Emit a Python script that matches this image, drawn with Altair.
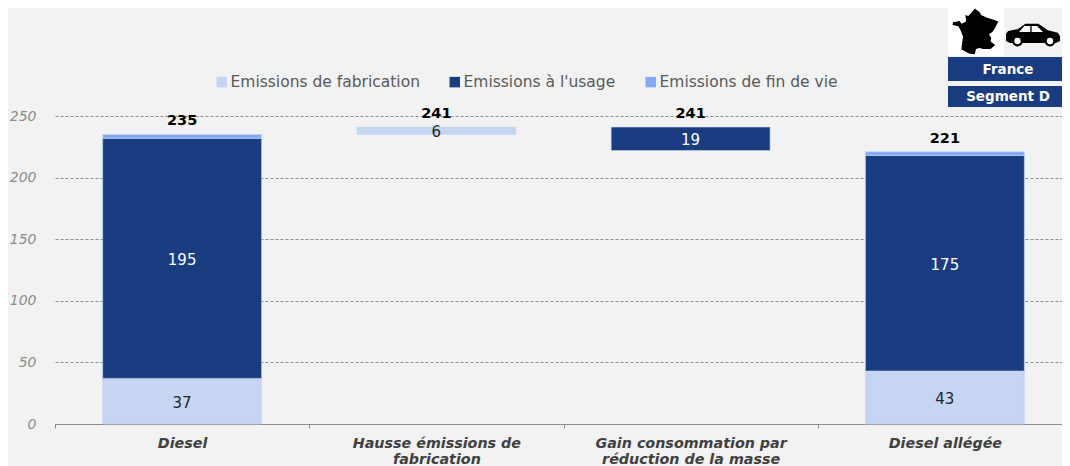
import altair as alt
import pandas as pd

categories = ["Diesel", "Hausse émissions de|fabrication", "Gain consommation par|réduction de la masse", "Diesel allégée"]
series_names = ["Emissions de fabrication", "Emissions à l'usage", "Emissions de fin de vie"]
series_colors = ["#c5d5f2", "#1a3c81", "#85aaf5"]

bar_category = [categories[0], categories[0], categories[0], categories[1], categories[2], categories[3], categories[3], categories[3]]
bar_series = [series_names[0], series_names[1], series_names[2], series_names[0], series_names[1], series_names[0], series_names[1], series_names[2]]
bar_start = [0, 37, 232, 235, 222, 0, 43, 218]
bar_end = [37, 232, 235, 241, 241, 43, 218, 221]
bar_label = ["37", "195", "", "6", "19", "43", "175", ""]

total_category = categories
total_value = [235, 241, 241, 221]

bars = pd.DataFrame({"cat": bar_category, "series": bar_series, "start": bar_start, "end": bar_end, "label": bar_label})
totals = pd.DataFrame({"cat": total_category, "total": total_value})

FONT = "DejaVu Sans"
x_enc = alt.X("cat:N", sort=categories, title=None,
              scale=alt.Scale(paddingInner=0, paddingOuter=0),
              axis=alt.Axis(labelAngle=0, labelExpr="datum.value ? split(datum.value, '|') : ''", tickBand="extent",
                            labelFont=FONT, labelFontStyle="italic", labelFontWeight="bold", labelFontSize=14.3,
                            labelColor="#404040", labelLineHeight=16, labelPadding=8, labelLimit=300,
                            domainColor="#8c8c8c", tickColor="#8c8c8c", tickSize=4, grid=False))
y_scale = alt.Scale(domain=[0, 250], nice=False)
y_enc = alt.Y("start:Q", scale=y_scale, title=None,
              axis=alt.Axis(values=[0, 50, 100, 150, 200, 250], grid=True, gridDash=[3, 2], gridColor="#8c8c8c",
                            gridWidth=1, domain=False, ticks=False, labelFont=FONT, labelFontStyle="italic",
                            labelFontSize=14, labelColor="#8c8c8c", labelPadding=19))

bar_layer = alt.Chart(bars).mark_bar(width={"band": 0.625}, stroke="#c5d5f2", strokeWidth=0.6).encode(
    x=x_enc, y=y_enc, y2="end:Q",
    color=alt.Color("series:N", sort=series_names, title=None,
                    scale=alt.Scale(domain=series_names, range=series_colors),
                    legend=alt.Legend(orient="none", legendX=159, legendY=-42, direction="horizontal",
                                      columns=3, columnPadding=27, symbolType="square", symbolSize=110,
                                      symbolStrokeWidth=0, labelFont=FONT, labelFontSize=15.5,
                                      labelColor="#595959", labelLimit=300, labelOffset=1)))

value_layer = alt.Chart(bars).transform_filter("datum.label != ''").transform_calculate(
    mid="(datum.start + datum.end) / 2").mark_text(font=FONT, fontSize=15, baseline="middle", dy=1.5).encode(
    x=alt.X("cat:N", sort=categories), y=alt.Y("mid:Q", scale=y_scale), text="label:N",
    color=alt.condition("datum.series == \"Emissions à l'usage\"", alt.value("#ffffff"), alt.value("#262626")))

total_layer = alt.Chart(totals).mark_text(font=FONT, fontSize=14.5, fontWeight="bold", baseline="middle", dy=-13, color="#000000").encode(
    x=alt.X("cat:N", sort=categories), y=alt.Y("total:Q", scale=y_scale), text="total:Q")

one = alt.Data(values=[{"k": 1}])
FRANCE = ("M-0.05 -1 L0.15 -0.85 L0.22 -0.72 L0.45 -0.62 L0.75 -0.52 L0.95 -0.45 L0.8 -0.15 L0.7 0 L0.55 0.1 "
          "L0.65 0.25 L0.62 0.4 L0.82 0.55 L0.62 0.72 L0.3 0.72 L0.15 0.68 L0 0.72 L-0.05 0.95 L-0.3 0.92 "
          "L-0.55 0.78 L-0.62 0.75 L-0.6 0.5 L-0.55 0.2 L-0.65 -0.05 L-0.75 -0.25 L-1 -0.3 L-0.98 -0.42 "
          "L-0.7 -0.47 L-0.62 -0.35 L-0.42 -0.45 L-0.45 -0.72 L-0.33 -0.68 L-0.2 -0.82 Z")
CAR = ("M-1 0.22 L-1 -0.05 L-0.92 -0.15 L-0.55 -0.22 L-0.28 -0.42 L0.2 -0.42 L0.55 -0.18 L0.92 -0.08 L1 0.05 "
       "L1 0.22 L0.85 0.3 L-0.85 0.3 Z")
WINDOW = "M-0.9 0 L-0.5 -0.45 L-0.05 -0.45 L-0.05 0 Z M0.05 0 L0.05 -0.45 L0.45 -0.45 L0.9 0 Z"


def rect(x, x2, y, y2, color):
    return alt.Chart(one).mark_rect(color=color).encode(x=alt.value(x), x2=alt.value(x2), y=alt.value(y), y2=alt.value(y2))


def sym(shape, x, y, size, color):
    return alt.Chart(one).mark_point(shape=shape, size=size, filled=True, color=color, opacity=1, strokeWidth=0).encode(
        x=alt.value(x), y=alt.value(y))


def label(txt, x, y):
    return alt.Chart(one).mark_text(text=txt, font=FONT, fontSize=13.5, fontWeight="bold", color="#ffffff").encode(
        x=alt.value(x), y=alt.value(y))


# pixel offsets are from the plot origin at page (55, 116)
decor = [
    rect(893, 949, -108, -60, "#ffffff"),
    sym(FRANCE, 921, -84, 2200, "#000000"),
    sym(CAR, 978, -81, 2916, "#000000"),
    sym(WINDOW, 976, -84, 711, "#ffffff"),
    sym("circle", 962.5, -75, 120, "#000000"),
    sym("circle", 995, -75, 120, "#000000"),
    sym("circle", 962.5, -75, 40, "#ffffff"),
    sym("circle", 995, -75, 40, "#ffffff"),
    rect(893, 1015, -59, -35, "#1a3c81"),
    rect(893, 1015, -30, -9, "#1a3c81"),
    label("France", 953, -46),
    label("Segment D", 953, -19),
]

chart = alt.layer(bar_layer, value_layer, total_layer, *decor).properties(
    width=1017, height=308, background="#f2f2f2",
    padding={"left": 47, "top": 108, "right": -10, "bottom": 42},
    autosize=alt.AutoSizeParams(type="none")
).configure_view(stroke=None)

chart.save("out.html", embed_options={"renderer": "svg", "actions": False})
